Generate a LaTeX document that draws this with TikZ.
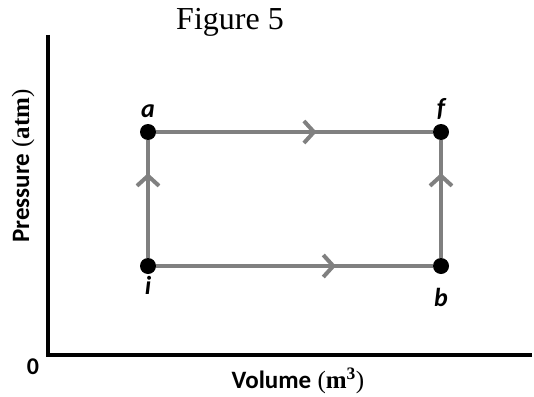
\documentclass[tikz,border=0pt]{standalone}
\usepackage{fontspec}
\setmainfont{Liberation Serif}
\newfontfamily\calibri{Carlito}
\usetikzlibrary{arrows.meta}
\usetikzlibrary{decorations.markings}

\definecolor{pathgray}{RGB}{128,128,128}

\tikzset{
	state/.style={circle,fill=black,inner sep=0pt,minimum size=16pt},
	statelabel/.style={font=\calibri\bfseries\itshape\fontsize{26}{26}\selectfont,inner sep=0pt},
	process/.style={draw=pathgray,line width=4pt},
	axis/.style={draw=black,line width=4pt},
	midarrow/.style={postaction={decorate},decoration={markings,
		mark=at position #1 with {\arrow[pathgray,line width=4pt]{Straight Barb[length=10pt,width=22pt]}}}}
}

\begin{document}
\begin{tikzpicture}[x=1pt,y=-1pt]
		
		% Canvas
		\useasboundingbox (0,0) rectangle (534,396);
		
		\node[font=\fontsize{32}{32}\selectfont] (title) at (230,22) {Figure 5};
		
		% Axes
		\coordinate (ytop) at (48,35);
		\coordinate (origin) at (48,355);
		\coordinate (xend) at (532,355);
		\draw[axis] (ytop) -- (origin) -- (xend);
		\node[font=\calibri\bfseries\fontsize{24}{24}\selectfont] (zero) at (33,367) {0};
		\node[font=\fontsize{25}{25}\selectfont] (xlabel) at (298,381)
			{{\calibri\bfseries Volume} (\textbf{m}$^{\mathbf{3}}$)};
		\node[rotate=90,font=\fontsize{25}{25}\selectfont] (ylabel) at (23,166)
			{{\calibri\bfseries Pressure} (\textbf{atm})};
		
		% States
		\node[state] (a) at (148,132) {};
		\node[state] (f) at (441,132) {};
		\node[state] (i) at (148,266) {};
		\node[state] (b) at (441,266) {};
		
		\node[statelabel] at (148,111) {a};
		\node[statelabel] at (441,109) {f};
		\node[statelabel] at (148,285) {i};
		\node[statelabel] at (441,297) {b};
		
		% Processes
		\draw[process,midarrow=0.58] (a) -- (f);
		\draw[process,midarrow=0.65] (i) -- (b);
		\draw[process,midarrow=0.72] (i) -- (a);
		\draw[process,midarrow=0.72] (b) -- (f);
		
	\end{tikzpicture}
\end{document}
